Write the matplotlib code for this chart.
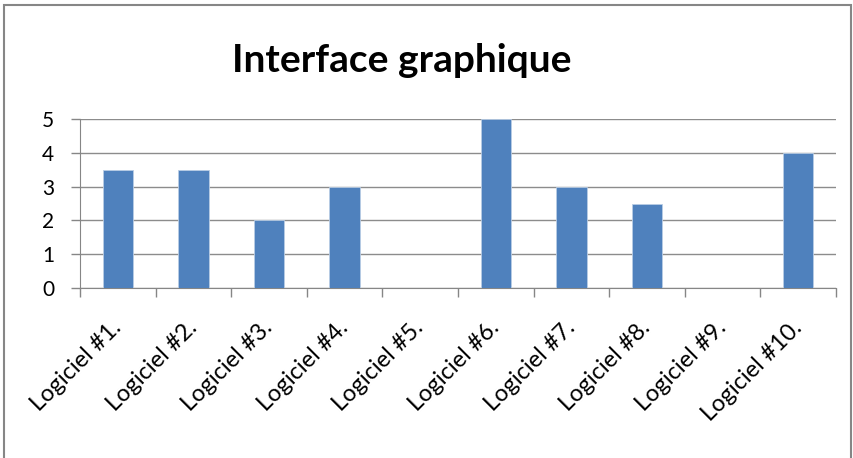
import matplotlib.pyplot as plt
import numpy as np
from matplotlib.patches import Rectangle

categories = ["Logiciel #1.", "Logiciel #2.", "Logiciel #3.", "Logiciel #4.", "Logiciel #5.",
              "Logiciel #6.", "Logiciel #7.", "Logiciel #8.", "Logiciel #9.", "Logiciel #10."]
values = [3.5, 3.5, 2, 3, 0, 5, 3, 2.5, 0, 4]
yticks = [0, 1, 2, 3, 4, 5]

plt.rcParams['font.family'] = ['Lato', 'DejaVu Sans']

fig = plt.figure(figsize=(8.54, 4.58), dpi=100)
W, H = 854, 458

# outer chart border (bottom is cut off in the reference)
fig.patches.append(Rectangle((4 / W, -0.1), 847 / W, 1.1 - 5 / H, transform=fig.transFigure,
                             fill=False, edgecolor="#868686", linewidth=1.5))

ax = fig.add_axes([80 / W, 1 - 288 / H, (836 - 80) / W, (288 - 119) / H])

x = np.arange(len(categories))
ax.bar(x, values, width=0.4, color="#4F81BD", edgecolor="#B9CDE5", linewidth=0.6, zorder=3)

ax.set_xlim(-0.5, len(categories) - 0.5)
ax.set_ylim(0, 5)
ax.set_yticks(yticks)
ax.set_yticklabels([str(v) for v in yticks], fontsize=15)
ax.yaxis.grid(True, color="#8C8C8C", linewidth=1, zorder=0)

# category boundary ticks
ax.set_xticks(np.arange(-0.5, len(categories) + 0.5, 1))
ax.set_xticklabels([])
ax.set_xticks(x, minor=True)
ax.set_xticklabels(categories, minor=True, rotation=45, ha="right", va="center",
                   rotation_mode="anchor", fontsize=17)
ax.tick_params(axis="x", which="minor", length=0, pad=26)
ax.tick_params(axis="x", which="major", length=6.5, color="#868686", width=1)
ax.tick_params(axis="y", length=6.5, color="#868686", width=1, pad=12)

for s in ["top", "right"]:
    ax.spines[s].set_visible(False)
ax.spines["left"].set_color("#868686")
ax.spines["bottom"].set_color("#868686")

fig.text(402 / W, 1 - 60 / H, "Interface graphique", ha="center", va="center",
         fontsize=28, fontweight="bold")

fig.savefig("out.png", dpi=100)
